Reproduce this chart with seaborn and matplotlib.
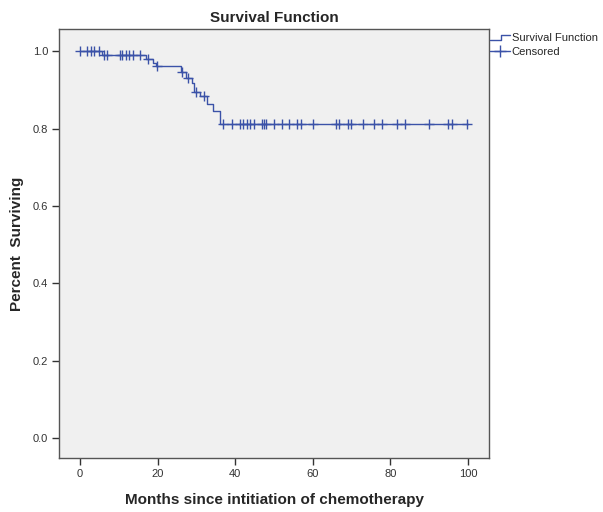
import numpy as np
import pandas as pd
import matplotlib
matplotlib.use("Agg")
import matplotlib.pyplot as plt
import seaborn as sns
from matplotlib.lines import Line2D
from matplotlib.legend_handler import HandlerLine2D

# Kaplan-Meier step curve
event_months = [0, 5.6, 17.0, 18.9, 19.7, 26.0, 27.2, 28.8, 29.4, 30.9, 32.8, 34.2, 36.1, 100]
survival = [1.0, 0.989, 0.979, 0.970, 0.961, 0.945, 0.932, 0.918, 0.895, 0.883, 0.863, 0.846, 0.813, 0.813]

# censored observations
censored_months = [0, 1.8, 2.8, 3.6, 4.9, 6.3, 6.9, 10.3, 10.9, 11.8, 12.6, 13.6, 15.5,
                   17.6, 19.8, 26.2, 27.7, 29.9, 32.0,
                   36.9, 39.1, 41.1, 41.9, 42.9, 43.8, 44.8, 47.0, 47.4, 47.9, 50.0, 52.0,
                   53.9, 55.8, 56.9, 60.1, 66.0, 66.8, 69.0, 69.8, 72.9, 75.8, 77.7, 81.8,
                   83.8, 89.9, 94.9, 95.8, 99.8]

curve = pd.DataFrame({"Months": event_months, "Survival": survival})
idx = np.searchsorted(event_months, censored_months, side="right") - 1
cens = pd.DataFrame({"Months": censored_months,
                     "Survival": np.array(survival)[idx]})

blue = "#3b52a8"


class StepHandler(HandlerLine2D):
    # little step shape like the SPSS legend
    def create_artists(self, legend, orig_handle, xdescent, ydescent,
                       width, height, fontsize, trans):
        x0, x1 = -xdescent, -xdescent + width
        xm = x0 + width * 0.55
        yl = -ydescent + height * 0.2
        yh = -ydescent + height * 0.8
        line = Line2D([x0, xm, xm, x1], [yl, yl, yh, yh], color=blue,
                      linewidth=1.0, transform=trans)
        return [line]


sns.set_style("white")
plt.rcParams["font.family"] = ["Arial", "Liberation Sans", "DejaVu Sans"]

fig = plt.figure(figsize=(6.03, 5.12), dpi=100)
ax = fig.add_axes([0.098, 0.1055, 0.713, 0.8375])
ax.set_facecolor("#f0f0f0")

sns.lineplot(data=curve, x="Months", y="Survival", drawstyle="steps-post",
             color=blue, linewidth=1.0, ax=ax, legend=False)
sns.scatterplot(data=cens, x="Months", y="Survival", marker="+", s=55,
                color=blue, linewidth=1.0, ax=ax, legend=False, zorder=3)

ax.set_xlim(-5.4, 105.4)
ax.set_ylim(-0.052, 1.057)
ax.set_xticks([0, 20, 40, 60, 80, 100])
ax.set_yticks([0.0, 0.2, 0.4, 0.6, 0.8, 1.0])
ax.set_yticklabels([f"{v:.1f}" for v in [0.0, 0.2, 0.4, 0.6, 0.8, 1.0]])
ax.tick_params(axis="both", direction="out", length=5, width=1, color="#333333",
               labelsize=8, labelcolor="#333333", left=True, bottom=True, pad=3)
for sp in ax.spines.values():
    sp.set_color("#555555")
    sp.set_linewidth(1.0)

ax.set_title("Survival Function", fontsize=11, fontweight="bold", pad=5)
ax.set_xlabel("Months since intitiation of chemotherapy", fontsize=11,
              fontweight="bold", labelpad=10)
ax.set_ylabel("Percent  Surviving", fontsize=11, fontweight="bold", labelpad=6)

surv_handle = Line2D([], [], color=blue, linewidth=1.0)
cens_handle = Line2D([], [], color=blue, linewidth=1.0, marker="+", markersize=9)
fig.legend([surv_handle, cens_handle], ["Survival Function", "Censored"],
           loc="upper left", bbox_to_anchor=(0.812, 0.935), frameon=False,
           fontsize=8, handlelength=1.8, handletextpad=0.2, labelspacing=0.3,
           borderaxespad=0, borderpad=0,
           handler_map={surv_handle: StepHandler()})

fig.savefig("out.png", dpi=100)
